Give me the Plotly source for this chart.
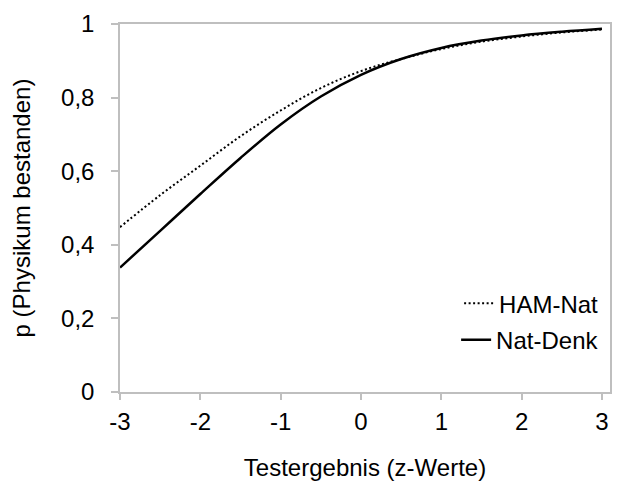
import plotly.graph_objects as go

z_values = [-3, -2.5, -2, -1.5, -1, -0.5, 0, 0.5, 1, 1.5, 2, 2.5, 3]
ham_nat = [0.448, 0.535, 0.615, 0.695, 0.765, 0.826, 0.872, 0.905, 0.932, 0.952, 0.966, 0.977, 0.985]
nat_denk = [0.338, 0.438, 0.538, 0.636, 0.727, 0.803, 0.862, 0.905, 0.935, 0.955, 0.969, 0.979, 0.987]

x_ticks = [-3, -2, -1, 0, 1, 2, 3]
y_ticks = [0, 0.2, 0.4, 0.6, 0.8, 1]
y_ticktext = ["0", "0,2", "0,4", "0,6", "0,8", "1"]

FONT = "Liberation Sans, Arial, sans-serif"
GRAY = "#bfbfbf"
FS = 24

fig = go.Figure()
fig.add_trace(go.Scatter(x=z_values, y=ham_nat, mode="lines", name="HAM-Nat",
                         line=dict(color="black", width=2, dash="2px,2.5px", shape="spline"),
                         legend="legend"))
fig.add_trace(go.Scatter(x=z_values, y=nat_denk, mode="lines", name="Nat-Denk",
                         line=dict(color="black", width=2.5, shape="spline"),
                         legend="legend2"))

legend_common = dict(font=dict(family=FONT, size=FS, color="black"), bgcolor="rgba(0,0,0,0)",
                     xanchor="right", yanchor="middle", itemwidth=30, tracegroupgap=0)

fig.update_layout(
    width=622, height=494,
    margin=dict(l=112, r=20, t=16, b=110, autoexpand=False),
    paper_bgcolor="white", plot_bgcolor="white",
    font=dict(family=FONT, size=FS, color="black"),
    showlegend=True,
    legend=dict(x=0.988, y=0.24, **legend_common),
    legend2=dict(x=0.988, y=0.141, **legend_common),
    xaxis=dict(range=[-3, 3.1], tickvals=x_ticks, ticktext=[str(v) for v in x_ticks],
               automargin=False,
               showgrid=False, zeroline=False, showline=True, linecolor=GRAY, linewidth=1.5,
               mirror=True, ticks="outside", ticklen=6, tickcolor=GRAY, tickwidth=1.5,
               ticklabelstandoff=1,
               title=dict(text="Testergebnis (z-Werte)", standoff=26,
                          font=dict(family=FONT, size=FS, color="black"))),
    yaxis=dict(range=[0, 1], tickvals=y_ticks, ticktext=y_ticktext,
               automargin=False,
               showgrid=False, zeroline=False, showline=True, linecolor=GRAY, linewidth=1.5,
               mirror=True, ticks="outside", ticklen=7, tickcolor=GRAY, tickwidth=1.5,
               ticklabelstandoff=12,
               title=dict(text="p (Physikum bestanden)", standoff=24,
                          font=dict(family=FONT, size=FS, color="black"))),
)

fig.write_html("out.html")
